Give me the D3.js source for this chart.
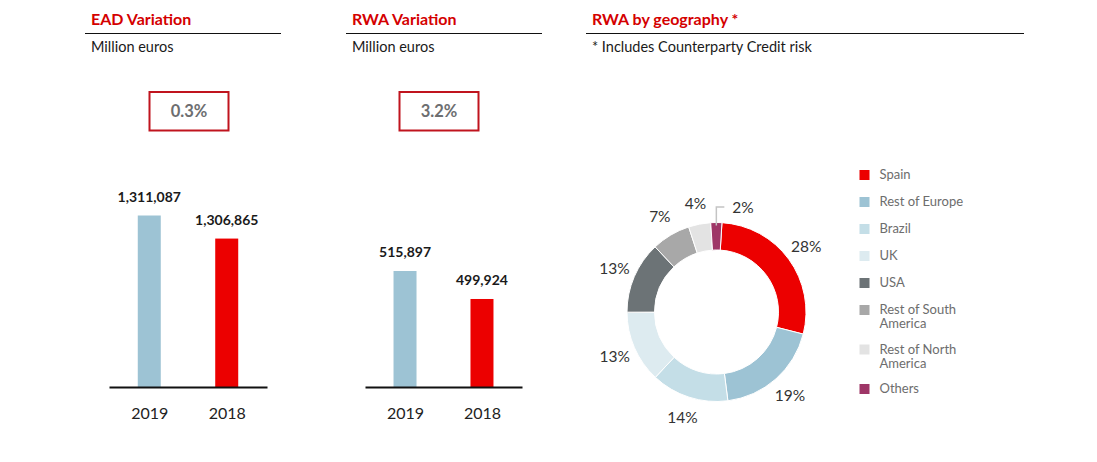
<!DOCTYPE html>
<html>
<head>
<meta charset="utf-8">
<script src="https://cdn.jsdelivr.net/npm/d3@7"></script>
<style>
  html, body { margin: 0; padding: 0; background: #fff; }
  svg { display: block; font-family: Lato, "Open Sans", sans-serif; }
</style>
</head>
<body>
<svg id="chart" width="1097" height="462"></svg>
<script>
// ---------- DATA ----------
const eadYears = ["2019", "2018"];
const eadValues = [1311087, 1306865];
const eadVariation = "0.3%";

const rwaYears = ["2019", "2018"];
const rwaValues = [515897, 499924];
const rwaVariation = "3.2%";

const geoCategories = ["Spain", "Rest of Europe", "Brazil", "UK", "USA",
  "Rest of South America", "Rest of North America", "Others"];
const geoShares = [28, 19, 14, 13, 13, 7, 4, 2];

// truncated value axes used by the original bars
const eadAxisMin = 1279700;
const rwaAxisMin = 449700;

// ---------- STYLE ----------
const RED = "#ec0000";
const TITLE_RED = "#d40000";
const BOX_RED = "#c0141e";
const BAR_BLUE = "#9dc3d4";
const yearColors = { "2019": BAR_BLUE, "2018": RED };
const geoColors = ["#ec0000", "#9dc3d4", "#c4dee7", "#ddebf0", "#6c7376",
  "#a8a8a8", "#e3e3e3", "#9e3667"];

const svg = d3.select("#chart");
svg.append("rect").attr("width", 1097).attr("height", 462).attr("fill", "#fff");

function header(x0, x1, title, subtitle) {
  svg.append("text").attr("x", x0 + 6).attr("y", 25)
    .attr("fill", TITLE_RED).attr("font-weight", 700).attr("font-size", 16)
    .text(title);
  svg.append("line").attr("x1", x0).attr("x2", x1).attr("y1", 33.5).attr("y2", 33.5)
    .attr("stroke", "#111").attr("stroke-width", 1);
  svg.append("text").attr("x", x0 + 6).attr("y", 52)
    .attr("fill", "#1a1a1a").attr("font-size", 14.5)
    .text(subtitle);
}

function barPanel(cfg) {
  header(cfg.left, cfg.lineRight, cfg.title, "Million euros");
  const g = svg.append("g");
  // variation box
  g.append("rect").attr("x", cfg.box[0]).attr("y", 92)
    .attr("width", cfg.box[1] - cfg.box[0]).attr("height", 38.5)
    .attr("fill", "none").attr("stroke", BOX_RED).attr("stroke-width", 2);
  g.append("text").attr("x", (cfg.box[0] + cfg.box[1]) / 2).attr("y", 117)
    .attr("text-anchor", "middle").attr("fill", "#6d6e70")
    .attr("font-size", 16.5).attr("font-weight", 700).text(cfg.variation);

  const baseline = 387;
  const x = d3.scalePoint().domain(cfg.years).range(cfg.axis).padding(0.52);
  const y = d3.scaleLinear().domain([cfg.axisMin, d3.max(cfg.values)])
    .range([baseline, cfg.topY]);
  const data = cfg.years.map((yr, i) => ({ yr, v: cfg.values[i] }));
  const bw = 23;

  g.selectAll(".bar").data(data).join("rect")
    .attr("x", d => x(d.yr) - bw / 2).attr("width", bw)
    .attr("y", d => y(d.v)).attr("height", d => baseline - y(d.v))
    .attr("fill", d => yearColors[d.yr]);

  g.selectAll(".val").data(data).join("text")
    .attr("x", d => x(d.yr)).attr("y", d => y(d.v) - 14)
    .attr("text-anchor", "middle").attr("font-size", 14).attr("font-weight", 700)
    .attr("fill", "#1a1a1a").text(d => d3.format(",")(d.v));

  const axis = g.append("g").attr("transform", `translate(0,${baseline})`)
    .call(d3.axisBottom(x).tickSize(0).tickSizeOuter(0).tickPadding(20.5));
  axis.select(".domain").attr("stroke", "#111").attr("stroke-width", 2);
  axis.selectAll("text").attr("font-size", 16).attr("fill", "#222")
    .attr("font-family", "Lato, 'Open Sans', sans-serif");
}

barPanel({ title: "EAD Variation", left: 85, lineRight: 281, axis: [109, 267],
  box: [149.5, 228.5], years: eadYears, values: eadValues, axisMin: eadAxisMin,
  topY: 215.5, variation: eadVariation });
barPanel({ title: "RWA Variation", left: 346, lineRight: 542, axis: [365, 522],
  box: [399.5, 478.5], years: rwaYears, values: rwaValues, axisMin: rwaAxisMin,
  topY: 271, variation: rwaVariation });

// ---------- DONUT ----------
header(586, 1024, "RWA by geography *", "* Includes Counterparty Credit risk");

const cx = 716.5, cy = 312, rOuter = 89.5, rInner = 62;
const startA = 0.061;
const pie = d3.pie().sort(null).value(d => d.v)
  .startAngle(startA).endAngle(startA + 2 * Math.PI);
const geoData = geoCategories.map((c, i) => ({ c, v: geoShares[i], col: geoColors[i] }));
const arcs = pie(geoData);
const arc = d3.arc().innerRadius(rInner).outerRadius(rOuter);
const dg = svg.append("g").attr("transform", `translate(${cx},${cy})`);
dg.selectAll("path").data(arcs).join("path")
  .attr("d", arc).attr("fill", d => d.data.col)
  .attr("stroke", "#fff").attr("stroke-width", 1);

const labelArc = d3.arc().innerRadius(111).outerRadius(111);
arcs.forEach(a => {
  const txt = a.data.v + "%";
  if (a.data.v < 3) {
    const mid = (a.startAngle + a.endAngle) / 2;
    const sx = Math.sin(mid) * (rOuter - 3), sy = -Math.cos(mid) * (rOuter - 3);
    const topY = -rOuter - 15.5;
    dg.append("path")
      .attr("d", `M${sx},${sy}V${topY}H${sx + 8}`)
      .attr("fill", "none").attr("stroke", "#c4c4c4").attr("stroke-width", 1.5);
    dg.append("text").attr("x", sx + 16).attr("y", topY + 5.5)
      .attr("font-size", 15.5).attr("fill", "#333").text(txt);
  } else {
    const [lx, ly] = labelArc.centroid(a);
    dg.append("text").attr("x", lx).attr("y", ly).attr("dy", "0.36em")
      .attr("text-anchor", "middle").attr("font-size", 15.5).attr("fill", "#333")
      .text(txt);
  }
});

// ---------- LEGEND ----------
const lg = svg.append("g");
let ly = 170;
geoData.forEach(d => {
  lg.append("rect").attr("x", 859.5).attr("y", ly).attr("width", 10).attr("height", 10)
    .attr("fill", d.col);
  const t = lg.append("text").attr("x", 879.5).attr("y", ly + 9)
    .attr("font-size", 13).attr("fill", "#6d6d6d");
  // wrap words to a max width
  const words = d.c.split(" ");
  let line = [], lines = [];
  const probe = lg.append("text").attr("font-size", 13).attr("visibility", "hidden");
  words.forEach(w => {
    const test = line.concat(w).join(" ");
    probe.text(test);
    if (probe.node().getComputedTextLength() > 88 && line.length) {
      lines.push(line.join(" ")); line = [w];
    } else line.push(w);
  });
  lines.push(line.join(" "));
  probe.remove();
  lines.forEach((l, i) => {
    t.append("tspan").attr("x", 879.5).attr("dy", i === 0 ? 0 : 14).text(l);
  });
  ly += 27 + (lines.length - 1) * 12.5;
});
</script>
</body>
</html>
